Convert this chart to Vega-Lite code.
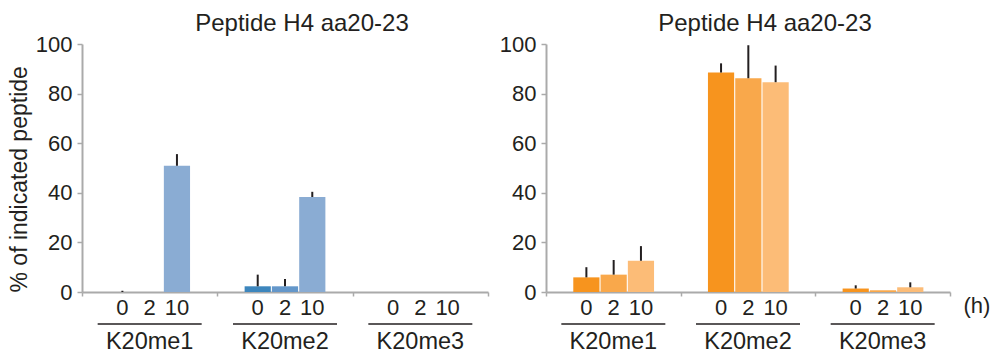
{
  "$schema": "https://vega.github.io/schema/vega-lite/v6.json",
  "padding": {"left": 8, "top": 12, "right": 0, "bottom": 0},
  "config": {
    "font": "Liberation Sans",
    "view": {"stroke": null},
    "concat": {"spacing": 10},
    "axis": {"grid": false, "domainColor": "#aaaaaa", "domainWidth": 2, "tickColor": "#aaaaaa", "tickWidth": 1.5, "labelColor": "#231f20", "titleColor": "#231f20", "labelFontSize": 22, "titleFontSize": 23, "titleFontWeight": "normal"}
  },
  "data": {
    "values": [
      {"panel": "A", "group": "K20me1", "time": "0", "value": 0, "err": 0.5},
      {"panel": "A", "group": "K20me1", "time": "2", "value": 0, "err": 0},
      {"panel": "A", "group": "K20me1", "time": "10", "value": 50.9, "err": 55.6},
      {"panel": "A", "group": "K20me2", "time": "0", "value": 2.3, "err": 7.0},
      {"panel": "A", "group": "K20me2", "time": "2", "value": 2.3, "err": 5.2},
      {"panel": "A", "group": "K20me2", "time": "10", "value": 38.3, "err": 40.4},
      {"panel": "A", "group": "K20me3", "time": "0", "value": 0, "err": 0},
      {"panel": "A", "group": "K20me3", "time": "2", "value": 0, "err": 0},
      {"panel": "A", "group": "K20me3", "time": "10", "value": 0, "err": 0},
      {"panel": "B", "group": "K20me1", "time": "0", "value": 5.9, "err": 10.0},
      {"panel": "B", "group": "K20me1", "time": "2", "value": 7.0, "err": 12.9},
      {"panel": "B", "group": "K20me1", "time": "10", "value": 12.6, "err": 18.5},
      {"panel": "B", "group": "K20me2", "time": "0", "value": 88.5, "err": 92.2},
      {"panel": "B", "group": "K20me2", "time": "2", "value": 86.2, "err": 99.5},
      {"panel": "B", "group": "K20me2", "time": "10", "value": 84.6, "err": 91.3},
      {"panel": "B", "group": "K20me3", "time": "0", "value": 1.4, "err": 2.7},
      {"panel": "B", "group": "K20me3", "time": "2", "value": 0.7, "err": 0.7},
      {"panel": "B", "group": "K20me3", "time": "10", "value": 1.9, "err": 3.9}
    ]
  },
  "resolve": {"scale": {"color": "independent"}},
  "hconcat": [
    {
      "width": 406,
      "height": 248,
      "title": {"text": "Peptide H4 aa20-23", "fontSize": 24, "fontWeight": "normal", "color": "#231f20", "offset": -3, "dx": 17},
      "transform": [{"filter": "datum.panel === 'A'"}],
      "encoding": {
        "x": {"field": "group", "type": "nominal", "scale": {"paddingInner": 0, "paddingOuter": 0},
              "axis": {"title": null, "labels": false, "tickBand": "extent", "tickSize": 4}}
      },
      "layer": [
        {
          "mark": {"type": "bar"},
          "encoding": {
            "xOffset": {"field": "time", "type": "nominal", "sort": ["0", "2", "10"], "scale": {"paddingInner": 0.04, "paddingOuter": 1.33}},
            "y": {"field": "value", "type": "quantitative", "scale": {"domain": [0, 100]},
                  "axis": {"values": [0, 20, 40, 60, 80, 100], "title": "% of indicated peptide", "titleAnchor": "start", "titlePadding": 4, "labelPadding": 5, "tickSize": 5}},
            "color": {"field": "time", "type": "nominal", "sort": ["0", "2", "10"], "scale": {"domain": ["0", "2", "10"], "range": ["#3d86bd", "#6497ca", "#8aacd3"]}, "legend": null}
          }
        },
        {
          "mark": {"type": "rule", "color": "#231f20", "strokeWidth": 2},
          "encoding": {
            "xOffset": {"field": "time", "type": "nominal", "sort": ["0", "2", "10"]},
            "y": {"field": "value", "type": "quantitative"},
            "y2": {"field": "err"}
          }
        },
        {
          "mark": {"type": "text", "dy": 16, "fontSize": 22, "baseline": "middle", "color": "#231f20"},
          "encoding": {
            "xOffset": {"field": "time", "type": "nominal", "sort": ["0", "2", "10"]},
            "y": {"datum": 0},
            "text": {"field": "time"}
          }
        },
        {
          "transform": [{"filter": "datum.time === '0'"}],
          "mark": {"type": "tick", "orient": "horizontal", "size": 104, "thickness": 1.5, "yOffset": 32, "color": "#231f20", "opacity": 1},
          "encoding": {"y": {"datum": 0}}
        },
        {
          "transform": [{"filter": "datum.time === '0'"}],
          "mark": {"type": "text", "dy": 50, "fontSize": 23.5, "baseline": "middle", "color": "#231f20"},
          "encoding": {"y": {"datum": 0}, "text": {"field": "group"}}
        }
      ]
    },
    {
      "width": 404,
      "height": 248,
      "title": {"text": "Peptide H4 aa20-23", "fontSize": 24, "fontWeight": "normal", "color": "#231f20", "offset": -3, "dx": 17},
      "transform": [{"filter": "datum.panel === 'B'"}],
      "encoding": {
        "x": {"field": "group", "type": "nominal", "scale": {"paddingInner": 0, "paddingOuter": 0},
              "axis": {"title": "(h)", "labels": false, "tickBand": "extent", "tickSize": 4, "titleX": 417, "titleY": 13, "titleAlign": "left", "titleBaseline": "middle", "titleFontSize": 22}}
      },
      "layer": [
        {
          "mark": {"type": "bar"},
          "encoding": {
            "xOffset": {"field": "time", "type": "nominal", "sort": ["0", "2", "10"], "scale": {"paddingInner": 0.04, "paddingOuter": 1.33}},
            "y": {"field": "value", "type": "quantitative", "scale": {"domain": [0, 100]},
                  "axis": {"values": [0, 20, 40, 60, 80, 100], "title": null, "labelPadding": 5, "tickSize": 5}},
            "color": {"field": "time", "type": "nominal", "sort": ["0", "2", "10"], "scale": {"domain": ["0", "2", "10"], "range": ["#f7941e", "#f9a84b", "#fcbc77"]}, "legend": null}
          }
        },
        {
          "mark": {"type": "rule", "color": "#231f20", "strokeWidth": 2},
          "encoding": {
            "xOffset": {"field": "time", "type": "nominal", "sort": ["0", "2", "10"]},
            "y": {"field": "value", "type": "quantitative"},
            "y2": {"field": "err"}
          }
        },
        {
          "mark": {"type": "text", "dy": 16, "fontSize": 22, "baseline": "middle", "color": "#231f20"},
          "encoding": {
            "xOffset": {"field": "time", "type": "nominal", "sort": ["0", "2", "10"]},
            "y": {"datum": 0},
            "text": {"field": "time"}
          }
        },
        {
          "transform": [{"filter": "datum.time === '0'"}],
          "mark": {"type": "tick", "orient": "horizontal", "size": 104, "thickness": 1.5, "yOffset": 32, "color": "#231f20", "opacity": 1},
          "encoding": {"y": {"datum": 0}}
        },
        {
          "transform": [{"filter": "datum.time === '0'"}],
          "mark": {"type": "text", "dy": 50, "fontSize": 23.5, "baseline": "middle", "color": "#231f20"},
          "encoding": {"y": {"datum": 0}, "text": {"field": "group"}}
        }
      ]
    }
  ]
}
